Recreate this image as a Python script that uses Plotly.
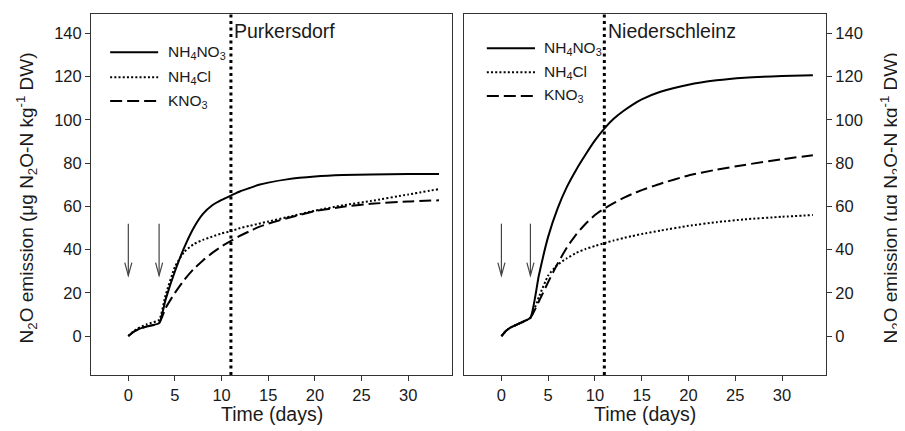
import plotly.graph_objects as go

# ---------------- data ----------------
days_p = [0, 0.5, 1, 2, 3.3, 4, 5, 6, 7, 8, 9, 10, 11, 12, 13, 14, 15, 17, 20, 23, 26, 30, 33.3]
purk_nh4no3 = [0, 1.8, 3, 4.5, 6, 17, 30, 41, 50, 56.5, 60.5, 63, 65, 67, 68.5, 70, 71, 72.5, 73.8, 74.5, 74.8, 75, 75]
purk_nh4cl = [0, 2, 3.5, 5.5, 7.5, 19, 32, 39, 42.5, 44.5, 46, 47.5, 48.5, 50, 51, 52, 53, 55, 58, 60.5, 62.5, 65.5, 68]
purk_kno3 = [0, 1.8, 3, 4.5, 6, 13, 20, 26, 31, 35, 38.5, 41.5, 44, 46.5, 48.5, 50.5, 52, 54.5, 57.8, 59.8, 61.2, 62.3, 62.8]

days_n = [0, 0.5, 1, 2, 3.1, 4, 5, 6, 7, 8, 9, 10, 11, 12, 13, 14, 15, 17, 20, 23, 26, 30, 33.3]
nied_nh4no3 = [0, 2.5, 4, 6, 8.5, 28, 46, 59, 69, 77, 84, 90.5, 96, 100.5, 104, 107, 109.5, 113, 116.3, 118.3, 119.5, 120.3, 120.7]
nied_nh4cl = [0, 2.5, 4, 6, 8.5, 18, 28, 33, 36, 38.5, 40.3, 41.7, 43, 44.2, 45.3, 46.3, 47.2, 48.8, 51, 52.7, 54, 55.2, 56]
nied_kno3 = [0, 2.5, 4, 6, 8.5, 16, 25, 33.5, 41, 47, 52, 56, 59, 61.5, 63.8, 65.8, 67.5, 70.5, 74.3, 77, 79.2, 81.8, 83.7]

fert_days_p = [0, 3.3]
fert_days_n = [0, 3.1]
cutoff_day = 11
site_names = ["Purkersdorf", "Niederschleinz"]
series_names = ["NH<sub>4</sub>NO<sub>3</sub>", "NH<sub>4</sub>Cl", "KNO<sub>3</sub>"]
x_ticks = [0, 5, 10, 15, 20, 25, 30]
y_ticks = [0, 20, 40, 60, 80, 100, 120, 140]

# ---------------- style ----------------
FONT = "Liberation Sans, Arial, sans-serif"
TXT = "#1a1a1a"
styles = [dict(color="black", width=2, dash="solid"),
          dict(color="black", width=2, dash="2px,2.2px"),
          dict(color="black", width=2, dash="12px,5px")]

fig = go.Figure()
panels = [
    ("x", "y", days_p, [purk_nh4no3, purk_nh4cl, purk_kno3], fert_days_p),
    ("x2", "y2", days_n, [nied_nh4no3, nied_nh4cl, nied_kno3], fert_days_n),
]
for xa, ya, d, series, _ in panels:
    for vals, st, nm in zip(series, styles, series_names):
        fig.add_trace(go.Scatter(x=d, y=vals, mode="lines", name=nm, xaxis=xa, yaxis=ya,
                                 line=dict(shape="spline", smoothing=0.5, **st),
                                 showlegend=False, hoverinfo="skip"))

shapes = []
annotations = []
arrow_top, arrow_tip, head_h, head_w = 52, 28, 6, 0.38
legend_pos = [
    dict(x0=0.053, x1=0.186, xt=0.208, ys=[0.894, 0.825, 0.759]),
    dict(x0=0.063, x1=0.196, xt=0.215, ys=[0.905, 0.8385, 0.773]),
]
for i, (xa, ya, d, series, fert) in enumerate(panels):
    # vertical dotted line
    shapes.append(dict(type="line", xref=xa, yref=f"{ya} domain", x0=cutoff_day, x1=cutoff_day,
                       y0=0, y1=1, line=dict(color="black", width=3, dash="3px,3.5px")))
    # site label
    annotations.append(dict(xref=xa, yref=f"{ya} domain", x=cutoff_day + 0.15, y=0.953,
                            text=site_names[i], showarrow=False, xanchor="left", yanchor="middle",
                            font=dict(family=FONT, size=19.5, color=TXT)))
    # fertilisation arrows
    for fd in fert:
        shapes.append(dict(type="line", xref=xa, yref=ya, x0=fd, x1=fd, y0=arrow_top, y1=arrow_tip,
                           line=dict(color="#444", width=1.2)))
        shapes.append(dict(type="path", xref=xa, yref=ya,
                           path=f"M{fd - head_w},{arrow_tip + head_h} L{fd},{arrow_tip} L{fd + head_w},{arrow_tip + head_h}",
                           line=dict(color="#444", width=1.2)))
    # legend
    lp = legend_pos[i]
    for st, nm, yy in zip(styles, series_names, lp["ys"]):
        shapes.append(dict(type="line", xref=f"{xa} domain", yref=f"{ya} domain",
                           x0=lp["x0"], x1=lp["x1"], y0=yy, y1=yy, line=st))
        annotations.append(dict(xref=f"{xa} domain", yref=f"{ya} domain", x=lp["xt"], y=yy,
                                text=nm, showarrow=False, xanchor="left", yanchor="middle",
                                font=dict(family=FONT, size=15.5, color=TXT)))
    # x title
    annotations.append(dict(xref=f"{xa} domain", yref="paper", x=0.5, y=-0.108,
                            text="Time (days)", showarrow=False, xanchor="center", yanchor="middle",
                            font=dict(family=FONT, size=19.5, color=TXT)))

ytitle = "N<sub>2</sub>O emission (μg N<sub>2</sub>O-N kg<sup>-1</sup> DW)"
for xp in (-0.088, 1.0875):
    annotations.append(dict(xref="paper", yref="paper", x=xp, y=0.49, text=ytitle, textangle=-90,
                            showarrow=False, xanchor="center", yanchor="middle",
                            font=dict(family=FONT, size=19, color=TXT)))

axis_common = dict(showline=True, mirror=True, linecolor="#333", linewidth=1, ticks="outside",
                   ticklen=5, tickcolor="#333", showgrid=False, zeroline=False,
                   tickfont=dict(family=FONT, size=16.5, color=TXT))
# page body has an 8px default margin: figure is offset by (8, 8)
fig.update_layout(
    width=897, height=423,
    margin=dict(l=83, r=79, t=6, b=56),
    plot_bgcolor="white", paper_bgcolor="white",
    xaxis=dict(domain=[0, 0.4912], range=[-4, 34.7], tickvals=x_ticks, anchor="y", **axis_common),
    yaxis=dict(range=[-18, 149], tickvals=y_ticks, anchor="x", **axis_common),
    xaxis2=dict(domain=[0.5075, 1], range=[-4, 34.7], tickvals=x_ticks, anchor="y2", **axis_common),
    yaxis2=dict(range=[-18, 149], tickvals=y_ticks, anchor="x2", side="right", **axis_common),
    shapes=shapes, annotations=annotations, showlegend=False,
)
fig.write_html("out.html")
